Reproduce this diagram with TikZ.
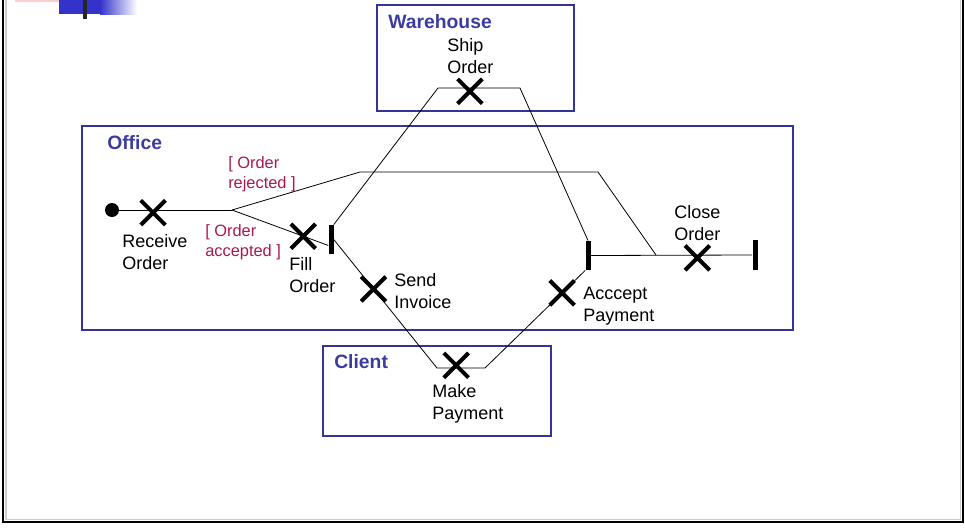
\documentclass[tikz,border=0pt]{standalone}
\usepackage{fontspec}
\setmainfont{Liberation Sans}
\usetikzlibrary{shapes.misc}

\definecolor{lanecol}{RGB}{51,51,153}
\definecolor{lanetext}{RGB}{60,60,160}
\definecolor{guardcol}{RGB}{168,24,80}
\definecolor{decoblue}{RGB}{51,51,204}

\tikzset{
  lane/.style={draw=lanecol, line width=1.9pt},
  lanename/.style={anchor=west, inner sep=0pt, text=lanetext, font=\fontsize{14.5}{16}\selectfont\bfseries},
  act/.style={cross out, draw, line width=3pt, minimum size=15.5pt, inner sep=0pt},
  actname/.style={anchor=west, align=left, inner sep=0pt, font=\fontsize{13.5}{16.5}\selectfont},
  guard/.style={anchor=west, align=left, inner sep=0pt, text=guardcol, font=\fontsize{12.3}{15}\selectfont},
  syncbar/.style={fill, inner sep=0pt, minimum width=3.75pt, minimum height=22pt},
  flow/.style={line width=0.6pt}
}

\begin{document}
\begin{tikzpicture}[x=0.75pt,y=-0.75pt]
	\useasboundingbox (0,0) rectangle (965,529);
	% frame and corner mark
	\draw[gray!40, line width=0.8pt] (6,-5) -- (6,519.5) -- (960.5,519.5) -- (960.5,-5);
	\draw[line width=1.5pt] (3,-5) -- (3,522) -- (963,522) -- (963,-5);
	\fill[red!20] (15,0) rectangle (75,1.5);
	\fill[decoblue] (59,0) rectangle (100,14);
	\shade[left color=decoblue, right color=white] (100,0) rectangle (137,14);
	\fill[black!85] (83,0) rectangle (87,19);
	% swimlanes
	\draw[lane] (377,5) rectangle (574,111);
	\draw[lane] (82,126) rectangle (793,330);
	\draw[lane] (323,346) rectangle (551,436);
	\node[lanename] (warehouse) at (388,22) {Warehouse};
	\node[lanename] (office) at (107,143) {Office};
	\node[lanename] (client) at (334,362) {Client};
	% states and bars
	\node[circle, fill, minimum size=10.5pt, inner sep=0pt] (start) at (112,210) {};
	\coordinate (branch) at (232,210);
	\coordinate (rejA) at (360,172);
	\coordinate (rejB) at (598,172);
	\coordinate (merge) at (656,255);
	\coordinate (shipA) at (438,88);
	\coordinate (shipB) at (520,88);
	\coordinate (payA) at (437,368);
	\coordinate (payB) at (485,368);
	\node[syncbar] (fork) at (331,239.5) {};
	\node[syncbar] (join) at (588,255.5) {};
	\node[syncbar] (final) at (755,255) {};
	% flows
	\draw[flow] (start) -- node[act, pos=0.3, yshift=-2pt] (receive) {} (branch);
	\draw[flow] (branch) -- (rejA) -- (rejB) -- (merge);
	\draw[flow] (branch) -- node[act, pos=0.74] (fill) {} (fork.245);
	\draw[flow] (fork.north east) -- (shipA) -- node[act, pos=0.39, yshift=-2.5pt] (ship) {} (shipB) -- (join.north);
	\draw[flow] (fork.east) -- node[act, pos=0.385] (invoice) {} (payA) -- node[act, pos=0.4, yshift=2pt] (makepay) {} (payB) -- node[act, pos=0.77] (accept) {} (join.south west);
	\draw[flow] (join.east) -- node[act, pos=0.66, yshift=-2pt] (close) {} (final.west);
	% labels
	\node[actname] (receivetext) at (122,252) {Receive\\Order};
	\node[actname] (filltext) at (289,275) {Fill\\Order};
	\node[actname] (shiptext) at (447,56) {Ship\\Order};
	\node[actname] (invoicetext) at (394,291) {Send\\Invoice};
	\node[actname] (accepttext) at (583,306) {Acccept\\Payment};
	\node[actname] (closetext) at (674,223) {Close\\Order};
	\node[actname] (makepaytext) at (432,404) {Make\\Payment};
	\node[guard] (rejected) at (228,174) {[ Order\\rejected ]};
	\node[guard] (accepted) at (205,242) {[ Order\\accepted ]};
\end{tikzpicture}
\end{document}
